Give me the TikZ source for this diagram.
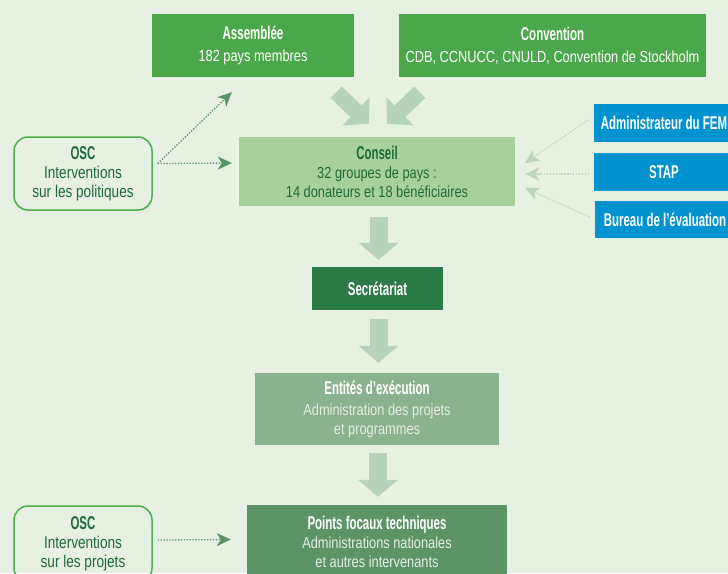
\documentclass[tikz,border=0pt]{standalone}
\usepackage{fontspec}
\setmainfont{Liberation Sans}[FakeStretch=0.8]
\newfontfamily\tfont{Liberation Sans}[FakeStretch=0.62]
\usetikzlibrary{arrows.meta}
\definecolor{bg}{HTML}{E6F0E3}
\definecolor{topg}{HTML}{4AA84A}
\definecolor{consg}{HTML}{A8D09B}
\definecolor{dtxt}{HTML}{1F6B38}
\definecolor{oscg}{HTML}{4DAF4A}
\definecolor{secg}{HTML}{2C7A45}
\definecolor{entg}{HTML}{8AB28D}
\definecolor{ptsg}{HTML}{5D9466}
\definecolor{blueb}{HTML}{0093D0}
\definecolor{arrc}{HTML}{B8D3BD}
\definecolor{dotd}{HTML}{5D9466}
\definecolor{dotl}{HTML}{BCD3BE}
\definecolor{subw}{HTML}{E6EFE3}
\tikzset{
  box/.style={inner sep=0pt, minimum width=#1, text=white, align=center,
    font=\fontsize{16}{19}\selectfont},
  oscbox/.style={box=138pt, draw=oscg, line width=1.5pt, rounded corners=14pt, text=dtxt,
    font=\fontsize{17}{19}\selectfont},
  bigarr/.style={draw=arrc, line width=18pt, -{Triangle[length=17pt,width=39pt]}},
  diagarr/.style={draw=arrc, line width=16pt, -{Triangle[length=18pt,width=38pt]}},
  dotdark/.style={draw=dotd, line width=1.3pt, dash pattern=on 1.3pt off 1.6pt,
    -{Stealth[length=14pt,width=13pt,inset=4pt]}},
  dotlight/.style={draw=dotl, line width=1.3pt, dash pattern=on 1.3pt off 1.6pt,
    -{Stealth[length=14pt,width=13pt,inset=4pt]}},
}
\newcommand\ttl[1]{{\fontsize{18.5}{19}\tfont\bfseries #1}}
\begin{document}
\begin{tikzpicture}[x=1pt,y=-1pt]
\useasboundingbox (0,0) rectangle (728,573);
\clip (0,0) rectangle (728,573);
\fill[bg] (0,0) rectangle (728,573);

\node[box=202pt, minimum height=63pt, fill=topg] (assemblee) at (253,45.5)
  {\ttl{Assemblée}\\[3pt]182 pays membres};
\node[box=307pt, minimum height=63pt, fill=topg] (convention) at (552.5,45.5)
  {\ttl{Convention}\\[3pt]CDB, CCNUCC, CNULD, Convention de Stockholm};
\node[box=276pt, minimum height=69pt, fill=consg, text=dtxt] (conseil) at (377,171.5)
  {\ttl{Conseil}\\32 groupes de pays :\\14 donateurs et 18 bénéficiaires};
\node[oscbox, minimum height=73pt] (osc1) at (83,173.5)
  {\ttl{OSC}\\Interventions\\sur les politiques};
\node[box=140pt, minimum height=38pt, fill=blueb] (admin) at (664,123)
  {\ttl{Administrateur du FEM}};
\node[box=140pt, minimum height=38pt, fill=blueb] (stap) at (664,172)
  {\ttl{STAP}};
\node[box=140pt, minimum height=37pt, fill=blueb] (bureau) at (665,219.5)
  {\ttl{Bureau de l’évaluation}};
\node[box=131pt, minimum height=43pt, fill=secg] (secr) at (377.5,288.5)
  {\ttl{Secrétariat}};
\node[box=244pt, minimum height=72pt, fill=entg] (entites) at (377,409)
  {\ttl{Entités d’exécution}\\[2pt]\textcolor{subw}{Administration des projets}\\\textcolor{subw}{et programmes}};
\node[box=260pt, minimum height=74pt, fill=ptsg] (points) at (377,542)
  {\ttl{Points focaux techniques}\\\textcolor{subw}{Administrations nationales}\\\textcolor{subw}{et autres intervenants}};
\node[oscbox, minimum height=76pt] (osc2) at (83,544)
  {\ttl{OSC}\\Interventions\\sur les projets};

% big arrows
\draw[diagarr] ([xshift=-18pt,yshift=-15pt]assemblee.south east) -- ([xshift=-8pt,yshift=13pt]conseil.north);
\draw[diagarr] ([xshift=21pt,yshift=-15pt]convention.south west) -- ([xshift=10pt,yshift=13pt]conseil.north);
\draw[bigarr] ([xshift=1.5pt,yshift=-11pt]conseil.south) -- ([xshift=1.5pt,yshift=7pt]conseil.south |- secr.north);
\draw[bigarr] ([xshift=1pt,yshift=-9pt]secr.south) -- ([xshift=1pt,yshift=10pt]secr.south |- entites.north);
\draw[bigarr] ([xshift=1pt,yshift=-8pt]entites.south) -- ([xshift=1pt,yshift=8pt]entites.south |- points.north);

% dotted arrows
\draw[dotdark] ([xshift=5pt,yshift=10pt]osc1.east) -- ([xshift=80pt,yshift=-15pt]assemblee.south west);
\draw[dotdark] ([xshift=5pt,yshift=10pt]osc1.east) -- ([xshift=-7pt,yshift=8.5pt]conseil.west);
\draw[dotdark] ([xshift=5pt,yshift=4pt]osc2.east) -- ([xshift=-16pt,yshift=2.5pt]points.west);
\draw[dotlight] ([xshift=-6pt,yshift=3pt]admin.west) -- ([xshift=10pt,yshift=8.5pt]conseil.east);
\draw[dotlight] ([xshift=-5pt,yshift=-2pt]stap.west) -- ([xshift=10pt,yshift=-2.5pt]conseil.east);
\draw[dotlight] ([xshift=-5pt,yshift=2.5pt]bureau.west) -- ([xshift=10pt,yshift=-16.5pt]conseil.east);
\end{tikzpicture}
\end{document}
